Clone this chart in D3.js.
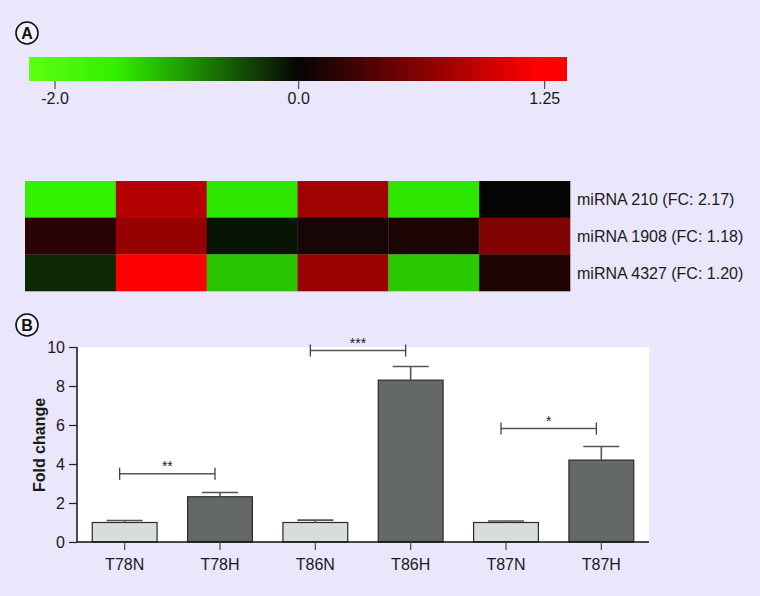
<!DOCTYPE html>
<html>
<head>
<meta charset="utf-8">
<script src="https://cdn.jsdelivr.net/npm/d3@7"></script>
<style>
  html, body { margin: 0; padding: 0; background: #eae6fb; }
  svg { display: block; font-family: "Liberation Sans", Arial, sans-serif; }
</style>
</head>
<body>
<svg id="chart" width="760" height="596"></svg>
<script>
// ---------- Data ----------
const legendTicks = [-2.0, 0.0, 1.25];
const legendTickLabels = ["-2.0", "0.0", "1.25"];
const heatRows = ["miRNA 210 (FC: 2.17)", "miRNA 1908 (FC: 1.18)", "miRNA 4327 (FC: 1.20)"];
const heatCols = ["T78N", "T78H", "T86N", "T86H", "T87N", "T87H"];
const heat210  = [-1.50, 0.85, -1.43, 0.75, -1.43, 0.00];
const heat1908 = [0.18, 0.70, -0.10, 0.09, 0.12, 0.60];
const heat4327 = [-0.23, 1.25, -1.21, 0.71, -1.25, 0.13];
const heatValues = [heat210, heat1908, heat4327];

const barCategories = ["T78N", "T78H", "T86N", "T86H", "T87N", "T87H"];
const barValues = [1.0, 2.32, 1.0, 8.3, 1.0, 4.2];
const barErrors = [0.1, 0.22, 0.12, 0.7, 0.08, 0.7];
const barGroups = ["N", "H", "N", "H", "N", "H"];
const yTicks = [0, 2, 4, 6, 8, 10];
const sigFrom = ["T78N", "T86N", "T87N"];
const sigTo = ["T78H", "T86H", "T87H"];
const sigLevel = [3.5, 9.82, 5.82];
const sigLabel = ["**", "***", "*"];

// ---------- Setup ----------
const svg = d3.select("#chart");
const textColor = "#1a1a1a";

function panelLabel(cx, cy, txt) {
  const g = svg.append("g");
  g.append("circle").attr("cx", cx).attr("cy", cy).attr("r", 11)
    .attr("fill", "#f4f2fd").attr("stroke", "#111").attr("stroke-width", 1.6);
  g.append("text").attr("x", cx).attr("y", cy + 5.5).attr("text-anchor", "middle")
    .attr("font-size", 16).attr("font-weight", "bold").attr("fill", "#111").text(txt);
}

// ---------- Panel A: colour legend ----------
panelLabel(27, 33, "A");

const legendX = d3.scaleLinear().domain([-2.0, 0, 1.25]).range([55, 298.7, 544.7]);
const barLeft = 29, barRight = 567, barTop = 57, barBottom = 81;
const color = d3.scaleLinear()
  .domain([-2.21, -1.49, 0, 1.21, 1.36])
  .range(["#5cff12", "#30f000", "#050505", "#ff0000", "#ff0000"])
  .clamp(true);

const defs = svg.append("defs");
const grad = defs.append("linearGradient").attr("id", "legendGrad")
  .attr("x1", "0%").attr("x2", "100%").attr("y1", "0%").attr("y2", "0%");
const nStops = 120;
d3.range(nStops + 1).forEach(i => {
  const px = barLeft + (barRight - barLeft) * i / nStops;
  grad.append("stop").attr("offset", (i / nStops * 100) + "%")
    .attr("stop-color", color(legendX.invert(px)));
});
svg.append("rect").attr("x", barLeft).attr("y", barTop)
  .attr("width", barRight - barLeft).attr("height", barBottom - barTop)
  .attr("fill", "url(#legendGrad)");

const legAxis = svg.append("g");
legendTicks.forEach((t, i) => {
  legAxis.append("line").attr("x1", legendX(t)).attr("x2", legendX(t))
    .attr("y1", barBottom).attr("y2", barBottom + 8).attr("stroke", "#333").attr("stroke-width", 1);
  legAxis.append("text").attr("x", legendX(t)).attr("y", 104).attr("text-anchor", "middle")
    .attr("font-size", 16).attr("fill", textColor).text(legendTickLabels[i]);
});

// ---------- Panel A: heatmap ----------
const hx = d3.scaleBand().domain(heatCols).range([25, 570]);
const hy = d3.scaleBand().domain(heatRows).range([181, 291]);
heatValues.forEach((row, r) => {
  svg.append("g").selectAll("rect").data(row).join("rect")
    .attr("x", (d, c) => hx(heatCols[c]))
    .attr("y", hy(heatRows[r]))
    .attr("width", hx.bandwidth() + 0.3)
    .attr("height", hy.bandwidth() + 0.3)
    .attr("fill", d => color(d));
});
svg.append("g").selectAll("text").data(heatRows).join("text")
  .attr("x", 577).attr("y", d => hy(d) + hy.bandwidth() / 2 + 6)
  .attr("font-size", 16).attr("fill", textColor).text(d => d);

// ---------- Panel B: bar chart ----------
panelLabel(27, 325, "B");

const plotL = 77, plotR = 649, plotT = 347, plotB = 542;
svg.append("rect").attr("x", plotL).attr("y", plotT)
  .attr("width", plotR - plotL).attr("height", plotB - plotT).attr("fill", "#ffffff");

const x = d3.scaleBand().domain(barCategories).range([plotL, plotR]).paddingInner(0.32).paddingOuter(0.16);
const y = d3.scaleLinear().domain([0, 10]).range([plotB, plotT]);

// bars
svg.append("g").selectAll("rect").data(barValues).join("rect")
  .attr("x", (d, i) => x(barCategories[i]))
  .attr("y", d => y(d))
  .attr("width", x.bandwidth())
  .attr("height", d => y(0) - y(d))
  .attr("fill", (d, i) => barGroups[i] === "N" ? "#d7ddda" : "#646966")
  .attr("stroke", "#2a2a2a").attr("stroke-width", 1.2);

// error bars
const eb = svg.append("g").attr("stroke", "#555").attr("stroke-width", 1.6);
barValues.forEach((v, i) => {
  const cx = x(barCategories[i]) + x.bandwidth() / 2;
  eb.append("line").attr("x1", cx).attr("x2", cx).attr("y1", y(v)).attr("y2", y(v + barErrors[i]));
  eb.append("line").attr("x1", cx - 18).attr("x2", cx + 18)
    .attr("y1", y(v + barErrors[i])).attr("y2", y(v + barErrors[i]));
});

// y axis
const yAxis = svg.append("g").attr("transform", `translate(${plotL},0)`)
  .call(d3.axisLeft(y).tickValues(yTicks).tickSize(8).tickPadding(4).tickFormat(d3.format("d")));
yAxis.attr("font-size", 16).attr("font-family", "Liberation Sans, Arial, sans-serif");
yAxis.select(".domain").attr("stroke", "#111").attr("stroke-width", 1.5).attr("d", `M0,${plotT}V${plotB}`);
yAxis.selectAll(".tick line").attr("stroke", "#222").attr("stroke-width", 1.2);
yAxis.selectAll(".tick text").attr("font-size", 16).attr("fill", textColor);

// x axis
const xAxis = svg.append("g").attr("transform", `translate(0,${plotB})`)
  .call(d3.axisBottom(x).tickSize(8).tickPadding(9));
xAxis.attr("font-size", 16).attr("font-family", "Liberation Sans, Arial, sans-serif");
xAxis.select(".domain").attr("stroke", "#111").attr("stroke-width", 1.5).attr("d", `M${plotL},0H${plotR}`);
xAxis.selectAll(".tick line").attr("stroke", "#444").attr("stroke-width", 1.2);
xAxis.selectAll(".tick text").attr("font-size", 16).attr("fill", textColor);

// y label
svg.append("text").attr("transform", `translate(45,445) rotate(-90)`)
  .attr("text-anchor", "middle").attr("font-size", 16).attr("font-weight", "bold")
  .attr("fill", textColor).text("Fold change");

// significance brackets
const sg = svg.append("g");
sigLabel.forEach((lab, i) => {
  const x1 = x(sigFrom[i]) + x.bandwidth() / 2 - 5;
  const x2 = x(sigTo[i]) + x.bandwidth() / 2 - 5;
  const yy = y(sigLevel[i]);
  sg.append("line").attr("x1", x1).attr("x2", x2).attr("y1", yy).attr("y2", yy)
    .attr("stroke", "#555").attr("stroke-width", 1.5);
  [x1, x2].forEach(xx => sg.append("line").attr("x1", xx).attr("x2", xx)
    .attr("y1", yy - 6).attr("y2", yy + 6).attr("stroke", "#333").attr("stroke-width", 1.2));
  sg.append("text").attr("x", (x1 + x2) / 2).attr("y", yy - 3).attr("text-anchor", "middle")
    .attr("font-size", 14).attr("fill", textColor).text(lab);
});
</script>
</body>
</html>
